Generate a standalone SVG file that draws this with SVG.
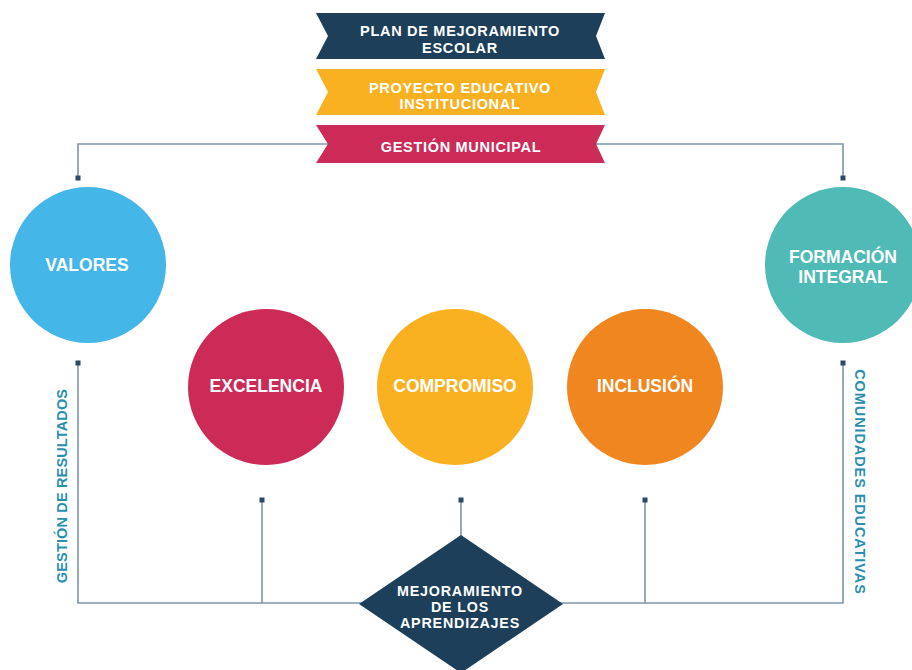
<svg xmlns="http://www.w3.org/2000/svg" width="912" height="670" viewBox="0 0 912 670">
<style>
.t{font-family:"Liberation Sans",Arial,sans-serif;font-weight:700;fill:#ffffff;text-anchor:middle}
.b{font-size:14.5px;letter-spacing:0.7px}
.d{font-size:14.3px;letter-spacing:0.8px}
.c{font-size:17.5px}
.v{font-family:"Liberation Sans",Arial,sans-serif;font-weight:700;fill:#2a8fae;font-size:14.5px;text-anchor:middle}
.ln{fill:none;stroke:#7f95aa;stroke-width:1.6}
.mk{fill:#2c4a66}
</style>
<rect width="912" height="670" fill="#ffffff"/>
<g id="connectors">
<polyline class="ln" points="78,178 78,144 843,144 843,178"/>
<polyline class="ln" points="78,363 78,603 843,603 843,363"/>
<line class="ln" x1="262" y1="500" x2="262" y2="603"/>
<line class="ln" x1="461" y1="500" x2="461" y2="536"/>
<line class="ln" x1="645" y1="500" x2="645" y2="603"/>
<rect class="mk" x="75.5" y="175.5" width="5" height="5"/>
<rect class="mk" x="840.5" y="175.5" width="5" height="5"/>
<rect class="mk" x="75.5" y="360.5" width="5" height="5"/>
<rect class="mk" x="840.5" y="360.5" width="5" height="5"/>
<rect class="mk" x="259.5" y="497.5" width="5" height="5"/>
<rect class="mk" x="458.5" y="497.5" width="5" height="5"/>
<rect class="mk" x="642.5" y="497.5" width="5" height="5"/>
</g>
<g id="plan">
<polygon points="316,13 605,13 596,36 605,59 316,59 328,36" fill="#1d3f5a"/>
<text class="t b" x="460" y="36">PLAN DE MEJORAMIENTO</text>
<text class="t b" x="460" y="53">ESCOLAR</text>
</g>
<g id="proyecto">
<polygon points="316,69 605,69 596,92 605,115 316,115 328,92" fill="#f9b122"/>
<text class="t b" x="460" y="92.5">PROYECTO EDUCATIVO</text>
<text class="t b" x="460" y="109">INSTITUCIONAL</text>
</g>
<g id="gestion">
<polygon points="316,125 605,125 596,144 605,163 316,163 328,144" fill="#cc2a57"/>
<text class="t b" x="461" y="152">GESTIÓN MUNICIPAL</text>
</g>
<g id="valores">
<circle cx="88" cy="265" r="78" fill="#45b6e8"/>
<text class="t c" x="87" y="271">VALORES</text>
</g>
<g id="formacion">
<circle cx="843" cy="265" r="78" fill="#4fbab6"/>
<text class="t c" x="843" y="263">FORMACIÓN</text>
<text class="t c" x="843" y="282.5">INTEGRAL</text>
</g>
<g id="excelencia">
<circle cx="266" cy="387" r="78" fill="#cc2a57"/>
<text class="t c" x="266" y="392">EXCELENCIA</text>
</g>
<g id="compromiso">
<circle cx="455" cy="387" r="78" fill="#f9b122"/>
<text class="t c" x="455" y="392">COMPROMISO</text>
</g>
<g id="inclusion">
<circle cx="645" cy="387" r="78" fill="#ef861f"/>
<text class="t c" x="645" y="392">INCLUSIÓN</text>
</g>
<g id="mejoramiento">
<polygon points="461,535 563,604 461,673 359,604" fill="#1d3f5a"/>
<text class="t d" x="460" y="596">MEJORAMIENTO</text>
<text class="t d" x="460" y="612">DE LOS</text>
<text class="t d" x="460" y="628">APRENDIZAJES</text>
</g>
<g id="labels">
<text class="v" style="letter-spacing:0.15px" transform="translate(67,486) rotate(-90)">GESTIÓN DE RESULTADOS</text>
<text class="v" style="letter-spacing:0.9px" transform="translate(855,482) rotate(90)">COMUNIDADES EDUCATIVAS</text>
</g>
</svg>
